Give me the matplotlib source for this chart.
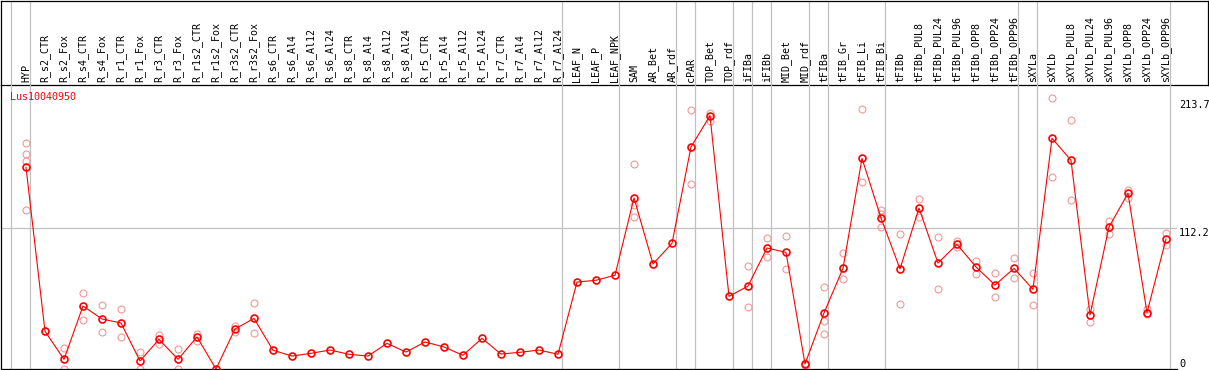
import matplotlib
matplotlib.use("Agg")
import matplotlib.pyplot as plt

# datos
gen = "Lus10040950"
etiquetas = ["HYP", "R_s2_CTR", "R_s2_Fox", "R_s4_CTR", "R_s4_Fox", "R_r1_CTR", "R_r1_Fox",
             "R_r3_CTR", "R_r3_Fox", "R_r1s2_CTR", "R_r1s2_Fox", "R_r3s2_CTR", "R_r3s2_Fox",
             "R_s6_CTR", "R_s6_Al4", "R_s6_Al12", "R_s6_Al24", "R_s8_CTR", "R_s8_Al4",
             "R_s8_Al12", "R_s8_Al24", "R_r5_CTR", "R_r5_Al4", "R_r5_Al12", "R_r5_Al24",
             "R_r7_CTR", "R_r7_Al4", "R_r7_Al12", "R_r7_Al24", "LEAF_N", "LEAF_P", "LEAF_NPK",
             "SAM", "AR_Bet", "AR_rdf", "cPAR", "TOP_Bet", "TOP_rdf", "iFIBa", "iFIBb",
             "MID_Bet", "MID_rdf", "tFIBa", "tFIB_Gr", "tFIB_Li", "tFIB_Bi", "tFIBb",
             "tFIBb_PUL8", "tFIBb_PUL24", "tFIBb_PUL96", "tFIBb_OPP8", "tFIBb_OPP24",
             "tFIBb_OPP96", "sXYLa", "sXYLb", "sXYLb_PUL8", "sXYLb_PUL24", "sXYLb_PUL96",
             "sXYLb_OPP8", "sXYLb_OPP24", "sXYLb_OPP96"]
medias = [160.5, 30.0, 7.7, 50.1, 39.8, 36.6, 6.4, 23.6, 7.7, 25.5, 0.0, 31.8, 40.3,
          14.9, 10.3, 12.5, 15.1, 11.7, 10.3, 20.4, 13.5, 21.5, 17.5, 10.9, 24.4,
          11.9, 13.3, 15.1, 11.7, 69.2, 70.6, 74.6,
          136.1, 83.6, 100.0, 176.7, 201.6, 57.8, 66.0, 96.3,
          92.8, 4.0, 44.6, 80.1, 167.6, 120.2, 79.6,
          128.1, 84.3, 99.2, 81.2, 66.8, 80.1,
          63.4, 183.6, 166.1, 43.0, 113.0, 139.8, 44.8, 103.4]
replicas = [[179.6, 170.8, 165.5, 126.5], [30.0], [16.4, 0.0], [60.5, 39.0], [50.7, 29.2],
            [47.5, 25.2], [13.5, 0.0], [27.1, 19.9], [15.7, 0.0], [27.6, 22.5], [0.0],
            [34.2, 29.2], [52.3, 28.6],
            [], [], [], [], [], [], [], [], [], [], [], [], [], [], [], [], [], [], [],
            [163.1, 130.5, 121.0], [], [], [205.9, 147.0], [204.0, 197.6], [],
            [82.0, 49.1], [104.2, 88.9], [105.8, 79.3], [4.5, 3.5],
            [65.2, 38.5, 27.9], [92.3, 71.4, 80.5], [206.9, 148.5], [126.5, 113.0, 123.3],
            [107.2, 51.7], [135.3, 121.2], [105.0, 63.4], [102.1, 96.8], [86.2, 75.8],
            [76.4, 57.0], [88.3, 72.7], [76.4, 50.7], [215.4, 152.5], [197.9, 134.2],
            [48.0, 37.2], [117.8, 107.7], [142.7, 136.3], [47.7, 43.8], [108.2, 98.9]]
cortes = [-1, 0, 28, 31, 34, 35, 37, 38, 39, 41, 42, 45, 52, 53, 60]  # lineas grises tras la columna
marcas_y = [0, 112.2, 213.7]

W, H = 1209, 370
fuente = "DejaVu Sans Mono"
gris = "#c0c0c0"

def lim_x(p0, p1):
    # columna k queda en el pixel 26 + 19*k
    return ((p0 - 26) / 19, (p1 - 26) / 19)

fig = plt.figure(figsize=(W / 100, H / 100), dpi=100)

# cabecera con los nombres
ax_c = fig.add_axes([1 / W, 285 / H, 1207 / W, 84.5 / H])
ax_c.set_xlim(*lim_x(1, 1208))
ax_c.set_ylim(0, 1)
ax_c.set_xticks([])
ax_c.set_yticks([])
for s in ax_c.spines.values():
    s.set_color("black")
    s.set_linewidth(0.9)
for c in cortes:
    ax_c.axvline(c + 0.22, color=gris, lw=0.9, zorder=0)
for i, et in enumerate(etiquetas):
    ax_c.text(i, 2.5 / 84.5, et, rotation=90, ha="center", va="bottom",
              fontsize=7.2, family=fuente, color="black")

# grafico principal
ax = fig.add_axes([1 / W, 1 / H, 1176 / W, 284 / H])
ax.set_xlim(*lim_x(1, 1177))
ax.set_ylim(0, 284 / 1.2567)
ax.patch.set_alpha(0)
ax.spines["top"].set_visible(False)
ax.spines["right"].set_visible(False)
for s in ("left", "bottom"):
    ax.spines[s].set_color("black")
    ax.spines[s].set_linewidth(0.9)
for c in cortes:
    ax.axvline(c + 0.22, color=gris, lw=0.9, zorder=0)
ax.axhline(112.2, color=gris, lw=0.9, zorder=0)

for i, reps in enumerate(replicas):
    if reps:
        ax.plot([i] * len(reps), reps, "o", ms=5, mfc="none", mec="#f09898", mew=0.8, zorder=2)
x = list(range(len(medias)))
ax.plot(x, medias, "-", color="red", lw=0.8, zorder=3)
ax.plot(x, medias, "o", ms=5, mfc="none", mec="red", mew=1.2, zorder=4)

ax.set_xticks([])
ax.yaxis.tick_right()
ax.set_yticks(marcas_y)
ax.set_yticklabels([str(v) for v in marcas_y], family=fuente, fontsize=7.4)
ax.tick_params(axis="y", length=0, pad=1.5)
labs = ax.get_yticklabels()
labs[0].set_va("bottom")
labs[1].set_va("top")
labs[2].set_va("top")

ax.text(9 / 1176, 0.975, gen, transform=ax.transAxes, ha="left", va="top",
        fontsize=7.2, family=fuente, color="red")

fig.savefig("out.png", dpi=100)
